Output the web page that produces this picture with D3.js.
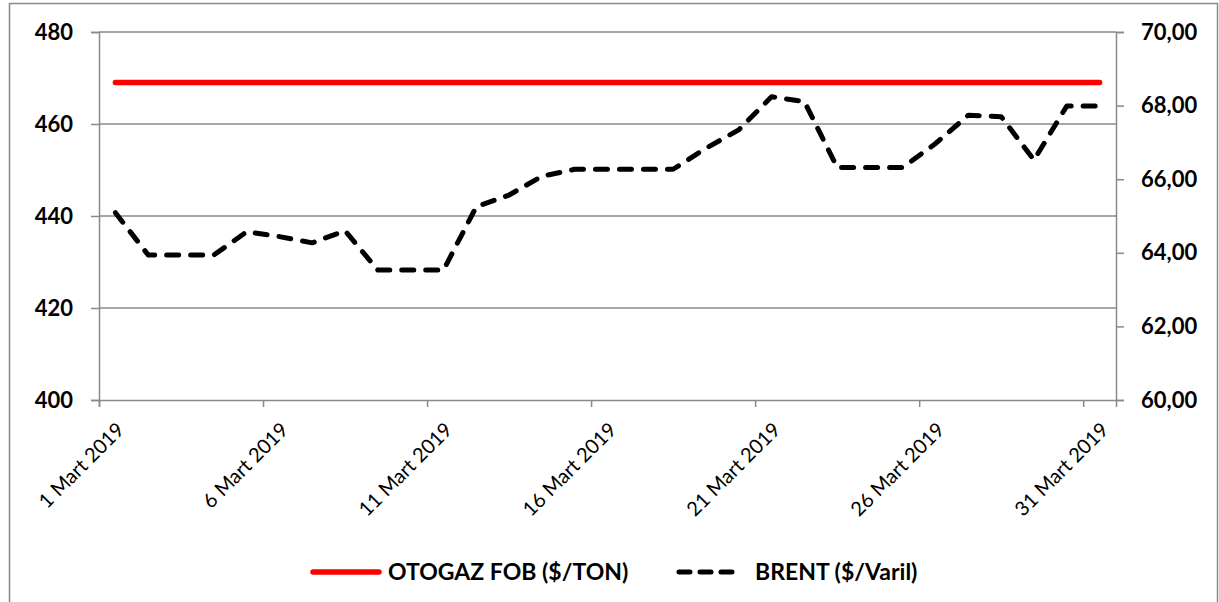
<!DOCTYPE html>
<html>
<head>
<meta charset="utf-8">
<script src="https://cdn.jsdelivr.net/npm/d3@7"></script>
<style>
  body { margin: 0; background: #fff; }
  text { font-family: Lato, "Open Sans", sans-serif; }
</style>
</head>
<body>
<div id="chart"></div>
<script>
// March 2019, one value per day
var days = [1, 2, 3, 4, 5, 6, 7, 8, 9, 10, 11, 12, 13, 14, 15, 16, 17, 18, 19, 20, 21, 22, 23, 24, 25, 26, 27, 28, 29, 30, 31];
var otogaz = [469, 469, 469, 469, 469, 469, 469, 469, 469, 469, 469, 469, 469, 469, 469, 469, 469, 469, 469, 469, 469, 469, 469, 469, 469, 469, 469, 469, 469, 469, 469];
var brent = [65.09, 63.94, 63.94, 63.94, 64.57, 64.44, 64.27, 64.60, 63.53, 63.53, 63.53, 65.25, 65.57, 66.08, 66.27, 66.27, 66.27, 66.27, 66.84, 67.34, 68.24, 68.11, 66.32, 66.32, 66.32, 66.97, 67.74, 67.70, 66.52, 67.99, 67.99];
var leftTicks = [400, 420, 440, 460, 480];
var rightTicks = [60, 62, 64, 66, 68, 70];
var xTickDays = [1, 6, 11, 16, 21, 26, 31];
var seriesNames = ["OTOGAZ FOB ($/TON)", "BRENT ($/Varil)"];

var W = 1219, H = 602;
var plotL = 99, plotR = 1116, plotT = 32, plotB = 400;
var grey = "#898989";

var svg = d3.select("#chart").append("svg").attr("width", W).attr("height", H);

// outer frame
svg.append("rect").attr("x", 9.5).attr("y", 3.5).attr("width", 1208).attr("height", 620)
  .attr("fill", "none").attr("stroke", grey).attr("stroke-width", 1.5);

// x as a linear scale over day slots, points sit in the middle of each slot
var x = d3.scaleLinear().domain([0, days.length]).range([plotL, plotR]);
var yL = d3.scaleLinear().domain([400, 480]).range([plotB, plotT]);
var yR = d3.scaleLinear().domain([60, 70]).range([plotB, plotT]);

// gridlines
svg.append("g").selectAll("line").data(leftTicks.slice(1)).enter().append("line")
  .attr("x1", plotL).attr("x2", plotR)
  .attr("y1", function (d) { return yL(d); }).attr("y2", function (d) { return yL(d); })
  .attr("stroke", grey).attr("stroke-width", 1.5);

// left axis
var gl = svg.append("g").attr("transform", "translate(" + plotL + ",0)")
  .call(d3.axisLeft(yL).tickValues(leftTicks).tickSize(8).tickPadding(18));
// right axis
var gr = svg.append("g").attr("transform", "translate(" + plotR + ",0)")
  .call(d3.axisRight(yR).tickValues(rightTicks).tickSize(8).tickPadding(17)
    .tickFormat(function (d) { return d3.format(".2f")(d).replace(".", ","); }));
// bottom axis
var gb = svg.append("g").attr("transform", "translate(0," + plotB + ")")
  .call(d3.axisBottom(x).tickValues(xTickDays.map(function (d) { return d - 1; })).tickSize(7)
    .tickFormat(function (i) { return days[i] + " Mart 2019"; }));

[gl, gr, gb].forEach(function (g) {
  g.select(".domain").attr("stroke", grey).attr("stroke-width", 1.5);
  g.selectAll(".tick line").attr("stroke", grey).attr("stroke-width", 1.5);
});
gl.selectAll("text").attr("font-size", 22).attr("font-weight", "bold").attr("fill", "#000");
gr.selectAll("text").attr("font-size", 22).attr("font-weight", "bold").attr("fill", "#000");
gb.selectAll("text").attr("font-size", 20).attr("fill", "#000")
  .attr("text-anchor", "end").attr("dy", 0)
  .attr("transform", "translate(26,31) rotate(-45)").attr("y", 0).attr("x", 0);

var px = function (d, i) { return x(i + 0.5); };

svg.append("path").datum(otogaz)
  .attr("d", d3.line().x(px).y(function (d) { return yL(d); }))
  .attr("fill", "none").attr("stroke", "#ff0000").attr("stroke-width", 5.5).attr("stroke-linecap", "round");

svg.append("path").datum(brent)
  .attr("d", d3.line().x(px).y(function (d) { return yR(d); }))
  .attr("fill", "none").attr("stroke", "#000").attr("stroke-width", 5)
  .attr("stroke-dasharray", "12,12").attr("stroke-linecap", "round").attr("stroke-linejoin", "round");

// legend
var leg = svg.append("g");
leg.append("line").attr("x1", 313).attr("x2", 379).attr("y1", 572).attr("y2", 572)
  .attr("stroke", "#ff0000").attr("stroke-width", 5.5).attr("stroke-linecap", "round");
leg.append("text").attr("x", 388).attr("y", 572).attr("dy", "0.35em")
  .attr("font-size", 23).attr("font-weight", "bold").text(seriesNames[0]);
leg.append("line").attr("x1", 679).attr("x2", 741).attr("y1", 572).attr("y2", 572)
  .attr("stroke", "#000").attr("stroke-width", 5).attr("stroke-dasharray", "11,10").attr("stroke-linecap", "round");
leg.append("text").attr("x", 755).attr("y", 572).attr("dy", "0.35em")
  .attr("font-size", 23).attr("font-weight", "bold").text(seriesNames[1]);
</script>
</body>
</html>
